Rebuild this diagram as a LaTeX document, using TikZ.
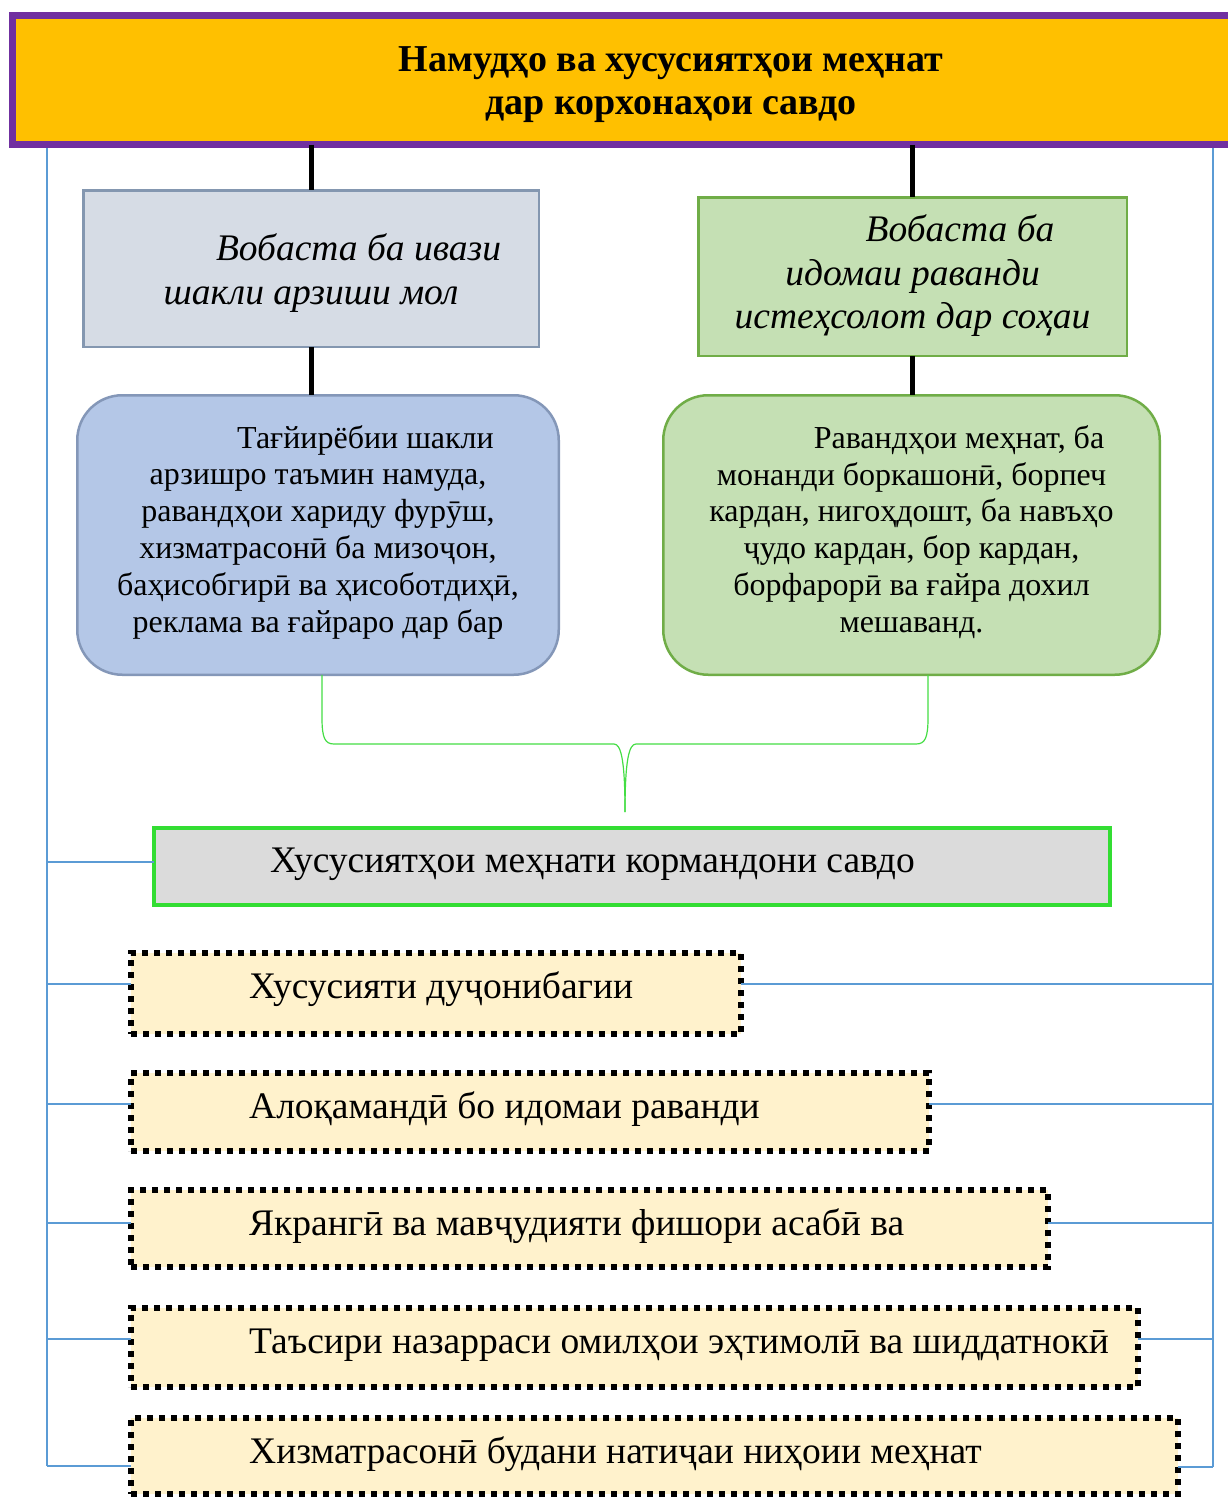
\documentclass[tikz,border=0pt]{standalone}
\usepackage{fontspec}
\setmainfont{Liberation Serif}
\definecolor{titlefill}{HTML}{FFC000}
\definecolor{titleborder}{HTML}{7030A0}
\definecolor{lineblue}{HTML}{5B9BD5}
\definecolor{grayfill}{HTML}{D6DCE5}
\definecolor{grayborder}{HTML}{8497B0}
\definecolor{bluefill}{HTML}{B4C7E7}
\definecolor{blueborder}{HTML}{8497B8}
\definecolor{greenfill}{HTML}{C5E0B4}
\definecolor{greenborder}{HTML}{70AD47}
\definecolor{brightgreen}{HTML}{33DD33}
\definecolor{bracegreen}{HTML}{44DD44}
\definecolor{lightgray}{HTML}{DBDBDB}
\definecolor{dotfill}{HTML}{FFF2CC}
\begin{document}
\begin{tikzpicture}[x=1pt,y=-1pt,
  boxbase/.style={inner sep=0pt,outer sep=0pt,anchor=north west},
  titlebox/.style={boxbase,draw=titleborder,fill=titlefill,line width=7pt},
  graybox/.style={boxbase,draw=grayborder,fill=grayfill,line width=2.5pt},
  greenbox/.style={boxbase,draw=greenborder,fill=greenfill,line width=2.5pt},
  bluerbox/.style={boxbase,draw=blueborder,fill=bluefill,line width=2.5pt,rounded corners=45pt},
  greenrbox/.style={boxbase,draw=greenborder,fill=greenfill,line width=2.5pt,rounded corners=45pt},
  mainbox/.style={boxbase,draw=brightgreen,fill=lightgray,line width=4pt},
  dotbox/.style={boxbase,draw=black,fill=dotfill,line width=6pt,dash pattern=on 6pt off 6pt},
  blueline/.style={draw=lineblue,line width=1.2pt},
  conn/.style={draw=black,line width=5pt},
  bracel/.style={draw=bracegreen,line width=1.2pt},
  titletxt/.style={inner sep=0pt,align=center,font=\fontsize{38}{43}\selectfont\bfseries},
  itxt/.style={inner sep=0pt,align=center,font=\fontsize{37.5}{43.5}\selectfont\itshape},
  rtxt/.style={inner sep=0pt,align=center,font=\fontsize{32}{36.8}\selectfont},
  stxt/.style={inner sep=0pt,anchor=base west,font=\fontsize{37.5}{40}\selectfont}
]
\useasboundingbox (0,0) rectangle (1228,1499);

% rails
\coordinate (ltop) at (47,148);
\coordinate (lbot) at (47,1466);
\coordinate (rtop) at (1213,148);
\coordinate (rbot) at (1213,1467);
\draw[blueline] (ltop) -- (lbot);
\draw[blueline] (rtop) -- (rbot);

% title
\node[titlebox,minimum width=1230pt,minimum height=129pt] (title) at (12.5,15.5) {};
\node[titletxt] (titletext) at (671,85) {Намудҳо ва хусусиятҳои меҳнат\\дар корхонаҳои савдо};

% second row
\node[graybox,minimum width=455.5pt,minimum height=156.5pt] (lbox) at (83.25,190.25) {};
\node[itxt] (lboxtext) at (311,273) {\hspace*{95pt}Вобаста ба ивази\\шакли арзиши мол};
\node[greenbox,minimum width=428.5pt,minimum height=158.5pt] (rbox) at (698.25,197.25) {};
\node[itxt] (rboxtext) at (912.5,276) {\hspace*{95pt}Вобаста ба\\идомаи раванди\\истеҳсолот дар соҳаи};

% third row
\node[bluerbox,minimum width=481.5pt,minimum height=279.5pt] (lrbox) at (77.25,395.25) {};
\node[rtxt] (lrboxtext) at (318,532) {\hspace*{95pt}Тағйирёбии шакли\\арзишро таъмин намуда,\\равандҳои хариду фурӯш,\\хизматрасонӣ ба мизоҷон,\\баҳисобгирӣ ва ҳисоботдиҳӣ,\\реклама ва ғайраро дар бар};
\node[greenrbox,minimum width=496.5pt,minimum height=279.5pt] (rrbox) at (663.25,395.25) {};
\node[rtxt] (rrboxtext) at (911.5,532) {\hspace*{95pt}Равандҳои меҳнат, ба\\монанди боркашонӣ, борпеч\\кардан, нигоҳдошт, ба навъҳо\\ҷудо кардан, бор кардан,\\борфарорӣ ва ғайра дохил\\мешаванд.};

% black connectors
\draw[conn] (title.south -| lbox.north) -- (lbox.north);
\draw[conn] (lbox.south) -- (lbox.south |- lrbox.north);
\draw[conn] (title.south -| rbox.north) -- (rbox.north);
\draw[conn] (rbox.south) -- (rbox.south |- rrbox.north);

% main box
\node[mainbox,minimum width=956pt,minimum height=77pt] (main) at (154,828) {};
\node[stxt] (maintext) at (270,872) {Хусусиятҳои меҳнати кормандони савдо};

% brace
\coordinate (bl) at (lrbox.south -| 322,0);
\coordinate (br) at (rrbox.south -| 928,0);
\coordinate (btip) at (625,812);
\draw[bracel] (bl) -- (322,718) .. controls (322,738) and (325,744) .. (334,744) -- (614,744) .. controls (621,744) and (625,760) .. (btip);
\draw[bracel] (br) -- (928,718) .. controls (928,738) and (925,744) .. (916,744) -- (636,744) .. controls (629,744) and (625,760) .. (btip);

% dotted boxes
\node[dotbox,minimum width=610pt,minimum height=81pt] (b1) at (131,953) {};
\node[stxt] (b1text) at (249,998) {Хусусияти дуҷонибагии};
\node[dotbox,minimum width=798pt,minimum height=78pt] (b2) at (131,1073) {};
\node[stxt] (b2text) at (249,1118) {Алоқамандӣ бо идомаи раванди};
\node[dotbox,minimum width=917pt,minimum height=77pt] (b3) at (131,1190) {};
\node[stxt] (b3text) at (249,1235) {Якрангӣ ва мавҷудияти фишори асабӣ ва};
\node[dotbox,minimum width=1007pt,minimum height=79pt] (b4) at (131,1308) {};
\node[stxt] (b4text) at (249,1353) {Таъсири назарраси омилҳои эҳтимолӣ ва шиддатнокӣ};
\node[dotbox,minimum width=1047pt,minimum height=76pt] (b5) at (131,1418) {};
\node[stxt] (b5text) at (249,1463) {Хизматрасонӣ будани натиҷаи ниҳоии меҳнат};

% blue branches
\draw[blueline] (main.west |- 0,862) -- (ltop |- 0,862);
\draw[blueline] (b1.west |- 0,984) -- (ltop |- 0,984);
\draw[blueline] (b2.west |- 0,1104) -- (ltop |- 0,1104);
\draw[blueline] (b3.west |- 0,1223) -- (ltop |- 0,1223);
\draw[blueline] (b4.west |- 0,1339) -- (ltop |- 0,1339);
\draw[blueline] (b5.west |- 0,1466) -- (lbot);
\draw[blueline] (b1.east |- 0,984) -- (rtop |- 0,984);
\draw[blueline] (b2.east |- 0,1104) -- (rtop |- 0,1104);
\draw[blueline] (b3.east |- 0,1223) -- (rtop |- 0,1223);
\draw[blueline] (b4.east |- 0,1339) -- (rtop |- 0,1339);
\draw[blueline] (b5.east |- 0,1467) -- (rbot);
\end{tikzpicture}
\end{document}
